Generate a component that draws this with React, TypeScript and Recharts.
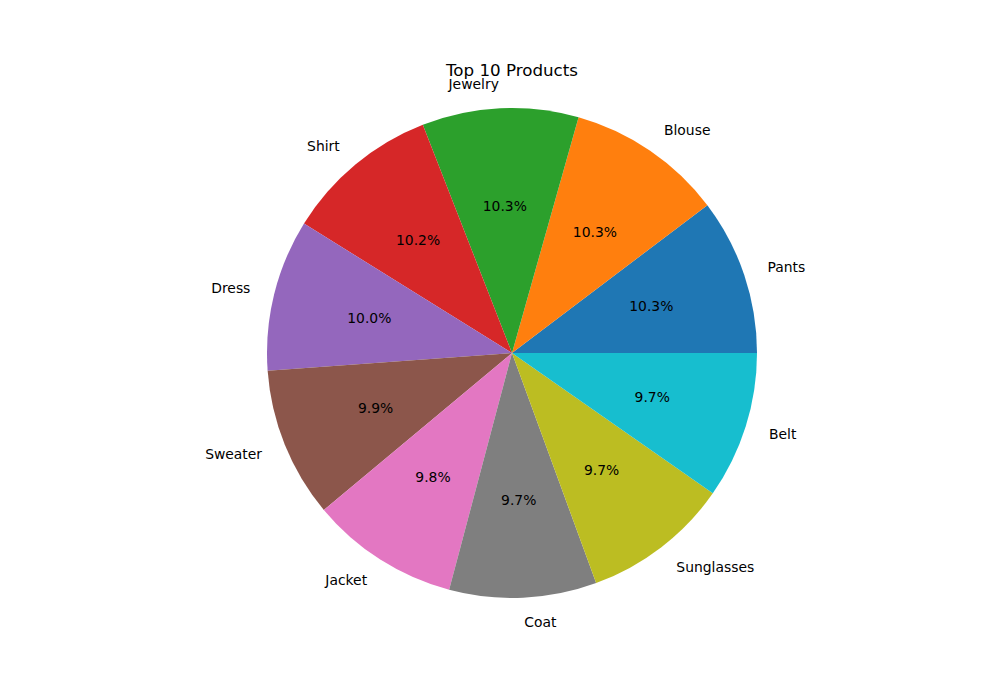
import React from 'react';
import { PieChart, Pie, Cell } from 'recharts';

const products = ['Pants', 'Blouse', 'Jewelry', 'Shirt', 'Dress', 'Sweater', 'Jacket', 'Coat', 'Sunglasses', 'Belt'];
const counts = [103, 103, 103, 102, 100, 99, 98, 97, 97, 97];
const colors = ['#1f77b4', '#ff7f0e', '#2ca02c', '#d62728', '#9467bd', '#8c564b', '#e377c2', '#7f7f7f', '#bcbd22', '#17becf'];

const data = products.map((name, i) => ({ name, value: counts[i] }));

const RAD = Math.PI / 180;
const FONT = 'DejaVu Sans, sans-serif';

const renderLabel = (props: any) => {
  const { cx, cy, midAngle, outerRadius, percent, name } = props;
  const cos = Math.cos(-midAngle * RAD);
  const sin = Math.sin(-midAngle * RAD);
  const lx = cx + outerRadius * 1.1 * cos;
  const ly = cy + outerRadius * 1.1 * sin;
  const px = cx + outerRadius * 0.6 * cos;
  const py = cy + outerRadius * 0.6 * sin;
  return (
    <g>
      <text x={lx} y={ly} textAnchor={cos >= 0 ? 'start' : 'end'} dominantBaseline="central" fontFamily={FONT} fontSize={13.9} fill="#000">
        {name}
      </text>
      <text x={px} y={py} textAnchor="middle" dominantBaseline="central" fontFamily={FONT} fontSize={13.9} fill="#000">
        {(percent * 100).toFixed(1) + '%'}
      </text>
    </g>
  );
};

export default function App() {
  return (
    <div style={{ position: 'absolute', left: 0, top: 0, width: 1000, height: 700, background: '#fff' }}>
      <PieChart width={1000} height={700} margin={{ top: 0, right: 0, bottom: 0, left: 0 }}>
        <Pie
          data={data}
          dataKey="value"
          nameKey="name"
          cx={512}
          cy={353}
          outerRadius={245}
          innerRadius={0}
          startAngle={0}
          endAngle={360}
          paddingAngle={0}
          stroke="none"
          label={renderLabel}
          labelLine={false}
          isAnimationActive={false}
        >
          {data.map((d, i) => (
            <Cell key={d.name} fill={colors[i]} stroke="none" />
          ))}
        </Pie>
      </PieChart>
      <div style={{ position: 'absolute', left: 12, width: 1000, top: 60, textAlign: 'center', fontFamily: FONT, fontSize: 16.7, color: '#000', lineHeight: '20px' }}>
        Top 10 Products
      </div>
    </div>
  );
}
